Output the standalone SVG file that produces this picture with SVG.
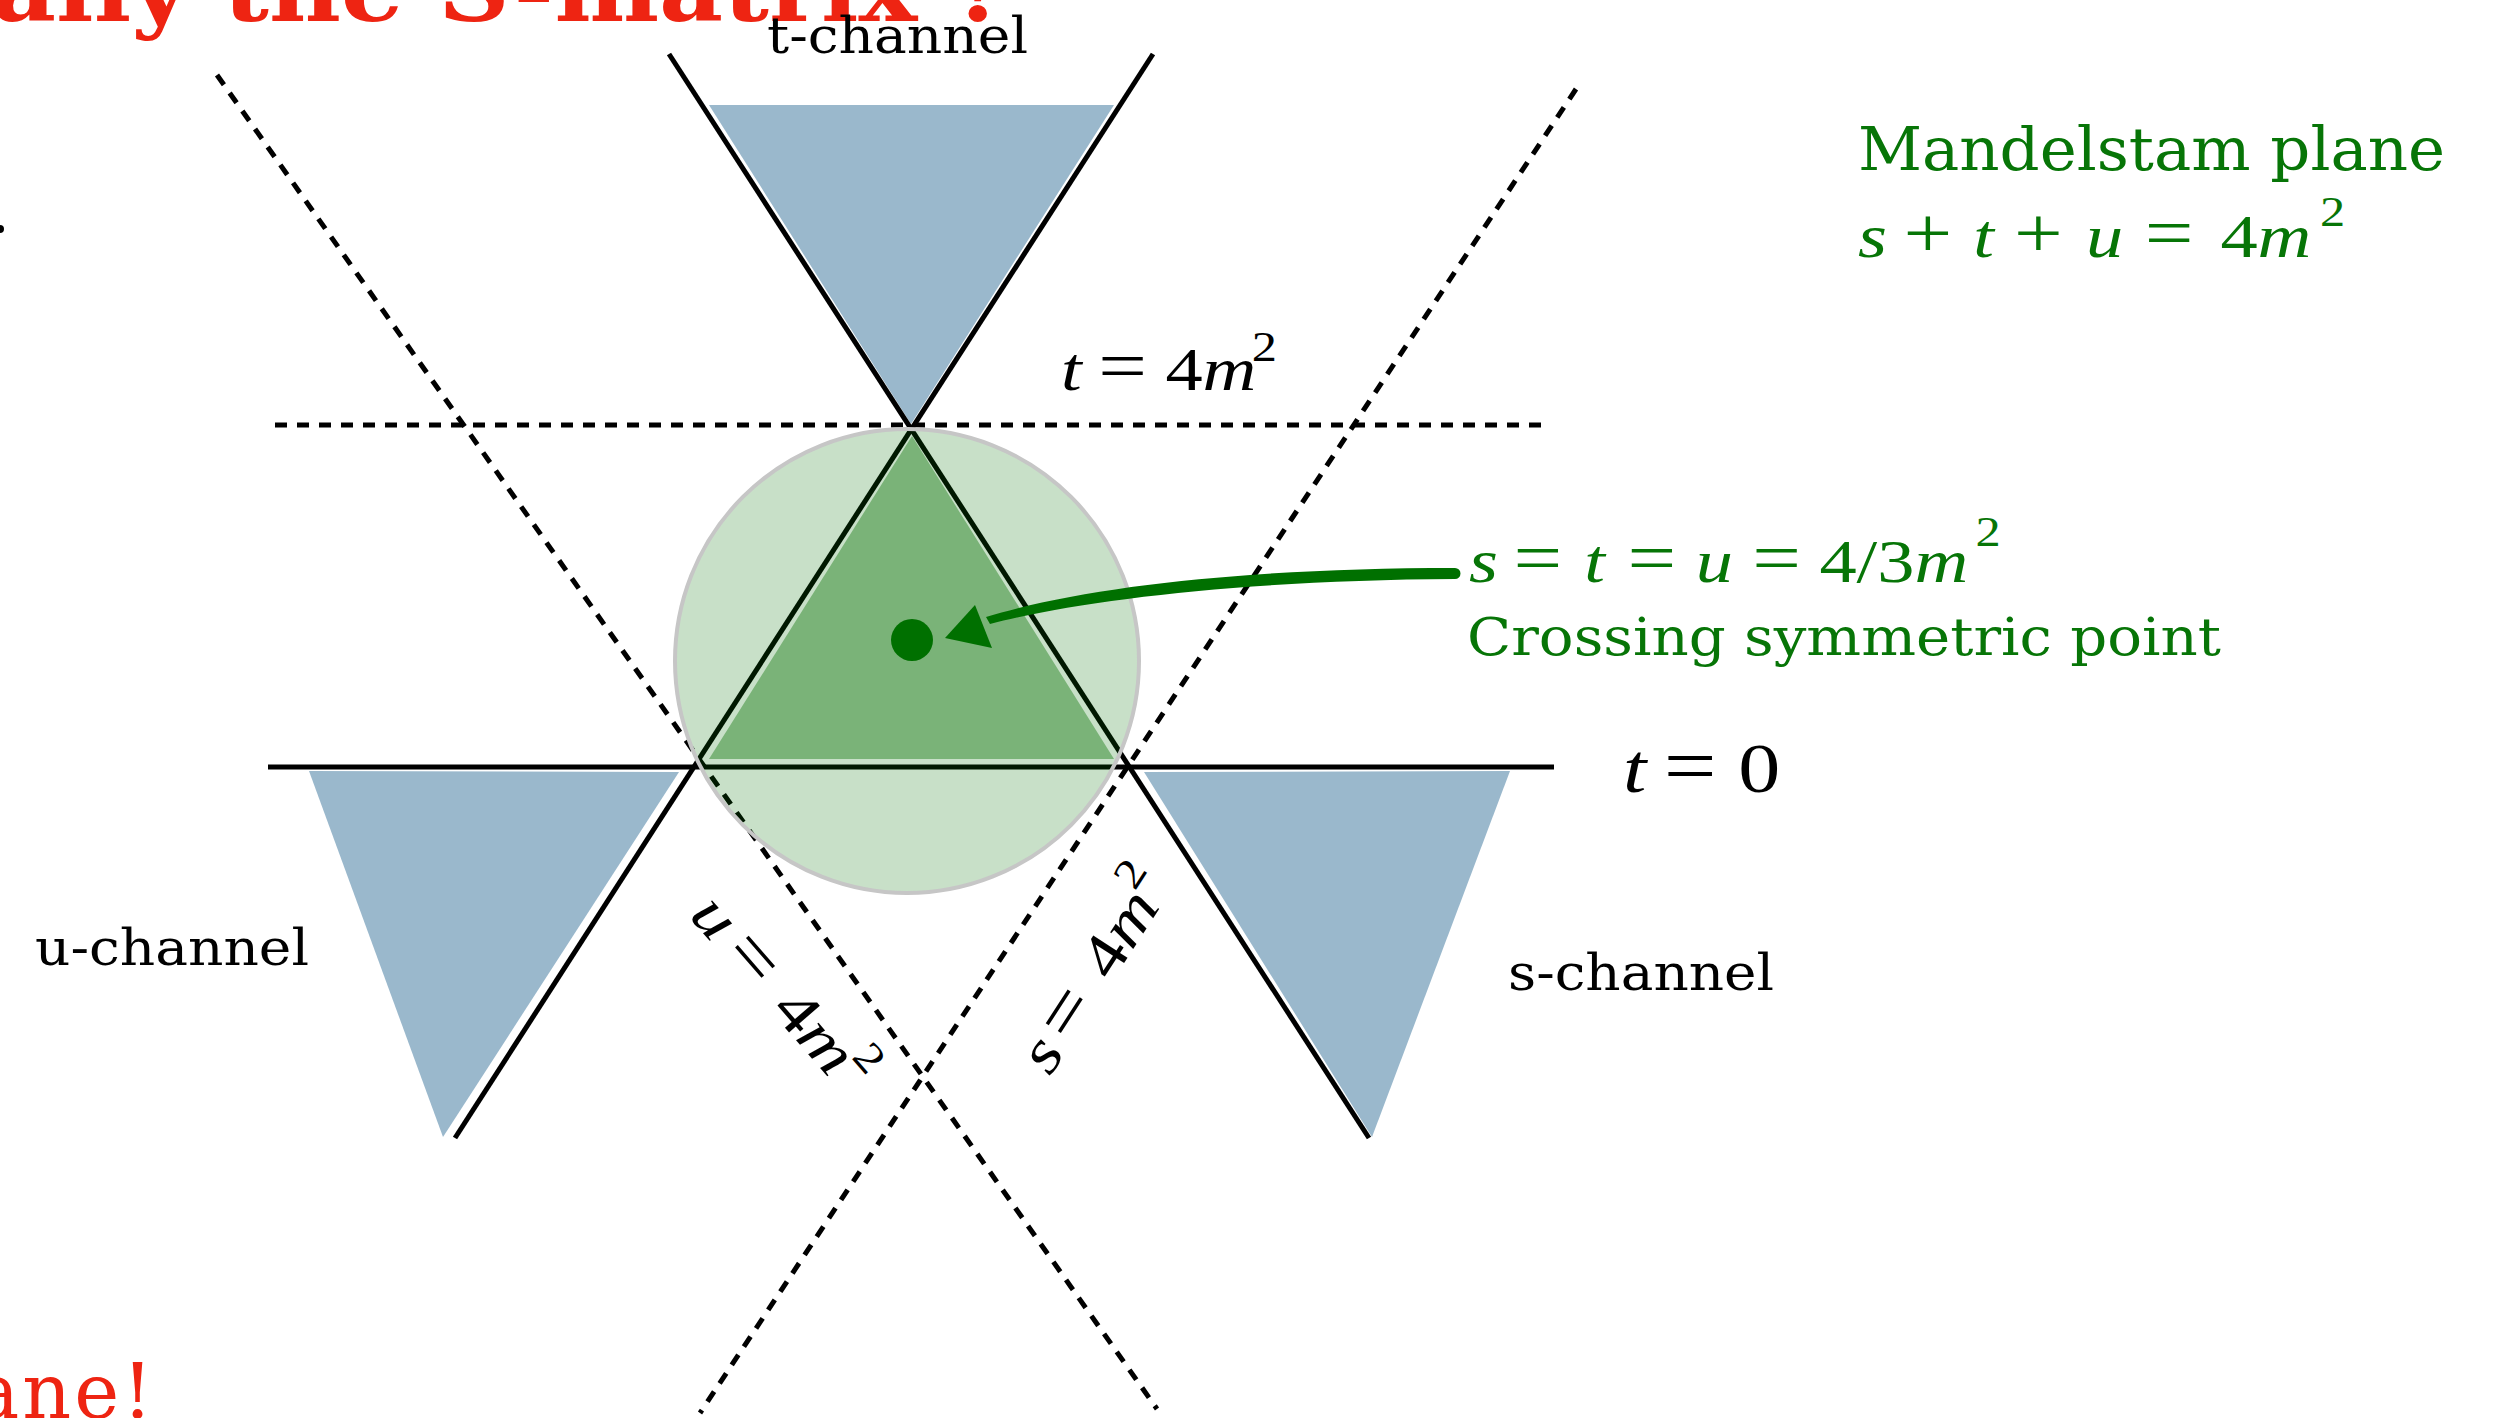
<svg xmlns="http://www.w3.org/2000/svg" width="2506" height="1418" viewBox="0 0 2506 1418">
<style>
.solid{stroke:#000;stroke-width:5;fill:none;stroke-linecap:butt}
.dash{stroke:#000;stroke-width:5;fill:none;stroke-dasharray:12 10}
.blue{fill:#9ab8cc}
.lbl{font-family:"DejaVu Serif","Liberation Serif",serif;fill:#000}
.grn{fill:#077507}
.m{font-family:"Liberation Serif","DejaVu Serif",serif;font-size:62px}
.i{font-style:italic}
.op{font-size:72px}
.sup{font-size:42px}
.red{font-family:"DejaVu Serif","Liberation Serif",serif;fill:#ee2412}
</style>
<rect width="2506" height="1418" fill="#fff"/>

<!-- cut-off slide texts -->
<text class="red" x="-8" y="21" font-size="92" font-weight="bold" textLength="1018" lengthAdjust="spacingAndGlyphs">ally the S-matrix ?</text>
<text class="red" x="-26" y="1418" font-size="76" letter-spacing="3">ane!</text>
<circle cx="0" cy="229" r="4" fill="#000"/>

<g id="regions">
  <polygon id="t-channel-region" class="blue" points="709,105 1114,105 911,424"/>
  <polygon id="u-channel-region" class="blue" points="309,771 679,772 443,1137"/>
  <polygon id="s-channel-region" class="blue" points="1144,772 1510,771 1372,1137"/>
  <polygon id="physical-triangle" fill="#9cc699" points="912,436 709,759 1114,759"/>
</g>

<g id="connectors">
  <line class="dash" x1="275" y1="425" x2="1542" y2="425"/>
  <line class="dash" x1="217" y1="75" x2="1157" y2="1409"/>
  <line class="dash" x1="1576" y1="89" x2="700" y2="1413"/>
  <line class="solid" x1="669" y1="54" x2="1369" y2="1138"/>
  <line class="solid" x1="1153" y1="54" x2="455" y2="1138"/>
  <line class="solid" x1="268" y1="767" x2="1554" y2="767"/>
</g>

<g id="analyticity-disk">
  <circle cx="907" cy="661" r="232" fill="#006f00" fill-opacity="0.216" stroke="#c6c6c6" stroke-width="4"/>
</g>

<g id="crossing-point">
  <circle cx="912" cy="640" r="21" fill="#007000"/>
  <path d="M990,624 C1080,600 1250,580 1455,579 A5.5,5.5 0 0 0 1455,568 C1260,568 1090,585 986,617 Z" fill="#007000"/>
  <polygon points="945,638 975,605 992,648" fill="#007000"/>
</g>

<g id="labels">
  <text class="lbl" x="767" y="53" font-size="50" textLength="261" lengthAdjust="spacingAndGlyphs">t-channel</text>
  <text class="lbl" x="35" y="965" font-size="50" textLength="274" lengthAdjust="spacingAndGlyphs">u-channel</text>
  <text class="lbl" x="1508" y="990" font-size="50" textLength="266" lengthAdjust="spacingAndGlyphs">s-channel</text>
  <text class="lbl grn" x="1858" y="170" font-size="59" textLength="587" lengthAdjust="spacingAndGlyphs">Mandelstam plane</text>
  <text class="lbl grn" x="1467" y="655" font-size="52" textLength="754" lengthAdjust="spacingAndGlyphs">Crossing symmetric point</text>

  <g transform="translate(1858,257) scale(1.2,1)">
    <text class="m grn"><tspan class="i" x="0">s</tspan><tspan class="op" x="38">+</tspan><tspan class="i" x="96">t</tspan><tspan class="op" x="130">+</tspan><tspan class="i" x="190">u</tspan><tspan class="op" x="239">=</tspan><tspan x="302">4</tspan><tspan class="i">m</tspan><tspan class="sup" x="385" y="-31">2</tspan></text>
  </g>
  <g transform="translate(1061,390) scale(1.2,1)">
    <text class="m"><tspan class="i" x="0">t</tspan><tspan class="op" x="31">=</tspan><tspan x="87">4</tspan><tspan class="i">m</tspan><tspan class="sup" x="159" y="-29">2</tspan></text>
  </g>
  <g transform="translate(1469,582) scale(1.2,1)">
    <text class="m grn"><tspan class="i" x="0">s</tspan><tspan class="op" x="37">=</tspan><tspan class="i" x="96">t</tspan><tspan class="op" x="132">=</tspan><tspan class="i" x="189">u</tspan><tspan class="op" x="236">=</tspan><tspan x="292">4/3</tspan><tspan class="i">m</tspan><tspan class="sup" x="422" y="-36">2</tspan></text>
  </g>
  <g transform="translate(1623,792) scale(1.2,1)">
    <text class="m" style="font-size:70px"><tspan class="i" x="0">t</tspan><tspan x="34" style="font-size:78px">=</tspan><tspan x="96">0</tspan></text>
  </g>
  <g transform="translate(688,916) rotate(49) scale(1.2,1)">
    <text class="m"><tspan class="i" x="0">u</tspan><tspan class="op" x="42">=</tspan><tspan x="104">4</tspan><tspan class="i">m</tspan><tspan class="sup" x="178" y="-30">2</tspan></text>
  </g>
  <g transform="translate(1050,1077) rotate(-57) scale(1.2,1)">
    <text class="m"><tspan class="i" x="0">s</tspan><tspan class="op" x="32">=</tspan><tspan x="94">4</tspan><tspan class="i">m</tspan><tspan class="sup" x="168" y="-30">2</tspan></text>
  </g>
</g>
</svg>
